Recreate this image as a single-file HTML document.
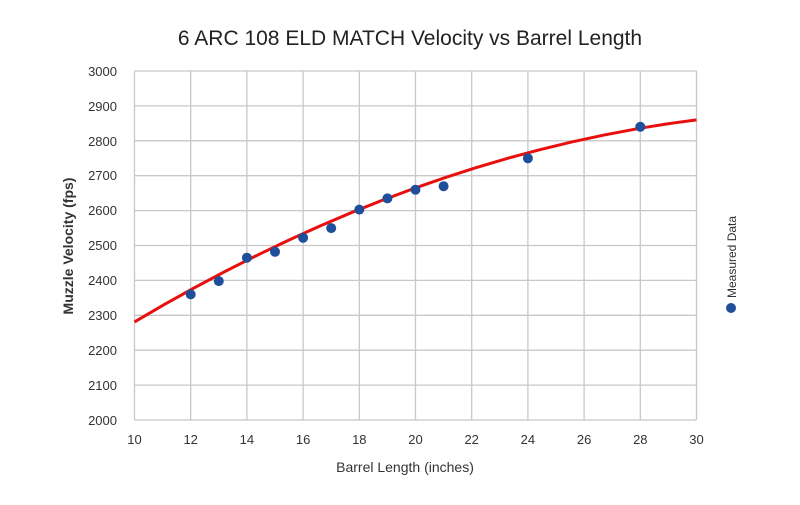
<!DOCTYPE html><html><head><style>body{margin:0;background:#fff}</style></head><body>
<svg width="800" height="500" xmlns="http://www.w3.org/2000/svg" font-family="Liberation Sans, sans-serif">
<rect width="800" height="500" fill="#fff"/>
<text x="410" y="45" font-size="21" text-anchor="middle" fill="#222">6 ARC 108 ELD MATCH Velocity vs Barrel Length</text>
<g stroke="#c8c8c8" stroke-width="1.3">
<line x1="134.5" x2="696.5" y1="420" y2="420"/><line x1="134.5" x2="696.5" y1="385.1" y2="385.1"/><line x1="134.5" x2="696.5" y1="350.2" y2="350.2"/><line x1="134.5" x2="696.5" y1="315.3" y2="315.3"/><line x1="134.5" x2="696.5" y1="280.4" y2="280.4"/><line x1="134.5" x2="696.5" y1="245.5" y2="245.5"/><line x1="134.5" x2="696.5" y1="210.6" y2="210.6"/><line x1="134.5" x2="696.5" y1="175.7" y2="175.7"/><line x1="134.5" x2="696.5" y1="140.8" y2="140.8"/><line x1="134.5" x2="696.5" y1="105.9" y2="105.9"/><line x1="134.5" x2="696.5" y1="71" y2="71"/>
<line y1="71" y2="420" x1="134.5" x2="134.5"/><line y1="71" y2="420" x1="190.7" x2="190.7"/><line y1="71" y2="420" x1="246.9" x2="246.9"/><line y1="71" y2="420" x1="303.1" x2="303.1"/><line y1="71" y2="420" x1="359.3" x2="359.3"/><line y1="71" y2="420" x1="415.5" x2="415.5"/><line y1="71" y2="420" x1="471.7" x2="471.7"/><line y1="71" y2="420" x1="527.9" x2="527.9"/><line y1="71" y2="420" x1="584.1" x2="584.1"/><line y1="71" y2="420" x1="640.3" x2="640.3"/><line y1="71" y2="420" x1="696.5" x2="696.5"/>
</g>
<g font-size="13" fill="#333" text-anchor="end">
<text x="117" y="425">2000</text><text x="117" y="390">2100</text><text x="117" y="355">2200</text><text x="117" y="320">2300</text><text x="117" y="285">2400</text><text x="117" y="250">2500</text><text x="117" y="215">2600</text><text x="117" y="180">2700</text><text x="117" y="146">2800</text><text x="117" y="111">2900</text><text x="117" y="76">3000</text>
</g>
<g font-size="13" fill="#333" text-anchor="middle">
<text x="134.5" y="444">10</text><text x="190.7" y="444">12</text><text x="246.9" y="444">14</text><text x="303.1" y="444">16</text><text x="359.3" y="444">18</text><text x="415.5" y="444">20</text><text x="471.7" y="444">22</text><text x="527.9" y="444">24</text><text x="584.1" y="444">26</text><text x="640.3" y="444">28</text><text x="696.5" y="444">30</text>
</g>
<path d="M134.5,321.9 Q415.5,154.9 696.5,119.9" fill="none" stroke="#e8100f" stroke-width="3"/>
<g fill="#1f4e9a">
<circle cx="190.7" cy="294.4" r="5"/><circle cx="218.8" cy="281.1" r="5"/><circle cx="246.9" cy="257.7" r="5"/><circle cx="275" cy="251.8" r="5"/><circle cx="303.1" cy="237.8" r="5"/><circle cx="331.2" cy="228.1" r="5"/><circle cx="359.3" cy="209.6" r="5"/><circle cx="387.4" cy="198.4" r="5"/><circle cx="415.5" cy="189.7" r="5"/><circle cx="443.6" cy="186.2" r="5"/><circle cx="527.9" cy="158.3" r="5"/><circle cx="640.3" cy="126.8" r="5"/>
</g>
<text x="405" y="472" font-size="14" text-anchor="middle" fill="#333">Barrel Length (inches)</text>
<text transform="translate(73,246) rotate(-90)" font-size="14" font-weight="bold" text-anchor="middle" fill="#333">Muzzle Velocity (fps)</text>
<circle cx="731" cy="308" r="5" fill="#1f4e9a"/>
<text transform="translate(736,298) rotate(-90)" font-size="12" fill="#333">Measured Data</text>
</svg></body></html>
